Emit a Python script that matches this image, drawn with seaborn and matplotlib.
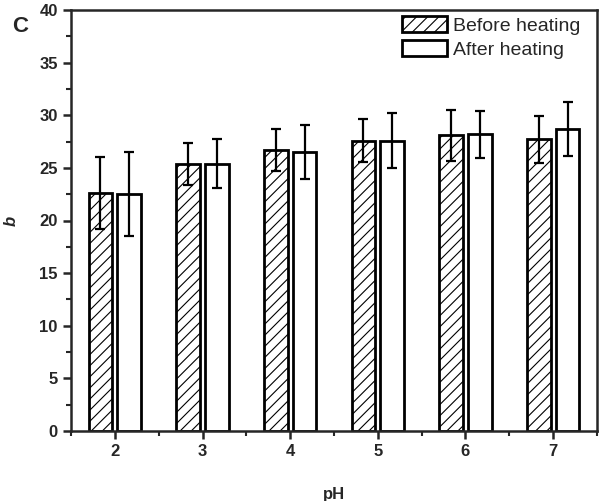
import matplotlib
matplotlib.use("Agg")
import matplotlib.pyplot as plt
from matplotlib.ticker import MultipleLocator
import seaborn as sns
import pandas as pd

# values
ph_levels = ["2", "3", "4", "5", "6", "7"]
before_heating = [22.6, 25.4, 26.7, 27.6, 28.1, 27.7]
before_err = [3.4, 2.0, 2.0, 2.0, 2.4, 2.25]
after_heating = [22.5, 25.4, 26.5, 27.6, 28.2, 28.7]
after_err = [4.0, 2.3, 2.6, 2.65, 2.25, 2.6]
series_names = ["Before heating", "After heating"]

sns.set_style("ticks")
plt.rcParams["font.family"] = ["Liberation Sans", "DejaVu Sans"]
plt.rcParams["hatch.linewidth"] = 0.8

df = pd.DataFrame({
    "pH": ph_levels * 2,
    "b": before_heating + after_heating,
    "err": before_err + after_err,
    "group": [series_names[0]] * len(ph_levels) + [series_names[1]] * len(ph_levels),
})

fig = plt.figure(figsize=(6, 5.01), dpi=100)
ax = fig.add_subplot(111)
fig.subplots_adjust(left=71 / 600, right=597 / 600, top=1 - 10 / 501, bottom=1 - 431 / 501)

sns.barplot(data=df, x="pH", y="b", hue="group", order=ph_levels,
            hue_order=series_names, palette=["white", "white"],
            width=0.66, gap=0.18, errorbar=None, edgecolor="black",
            linewidth=2, ax=ax)

n = len(ph_levels)
for i, patch in enumerate(ax.patches[:2 * n]):
    if i < n:
        patch.set_hatch("///")
    cx = patch.get_x() + patch.get_width() / 2
    ax.errorbar(cx, df["b"].iloc[i], yerr=df["err"].iloc[i], fmt="none",
                ecolor="black", elinewidth=1.6, capsize=3.3, capthick=1.6,
                zorder=5)

ax.set_xlim(-0.5, n - 0.5)
ax.set_ylim(0, 40)
ax.yaxis.set_major_locator(MultipleLocator(5))
ax.yaxis.set_minor_locator(MultipleLocator(2.5))
ax.xaxis.set_minor_locator(MultipleLocator(0.5))
ax.tick_params(which="major", direction="out", length=6, width=1.8,
               labelsize=12)
ax.tick_params(which="minor", direction="out", length=3.5, width=1.5)
for lbl in ax.get_xticklabels() + ax.get_yticklabels():
    lbl.set_fontweight("bold")
for s in ax.spines.values():
    s.set_visible(True)
    s.set_linewidth(1.8)

ax.set_xlabel("pH", fontsize=12, fontweight="bold", labelpad=20)
ax.set_ylabel("b", fontsize=12, fontweight="bold", style="italic")
ax.yaxis.set_label_coords(-0.1, 0.5)

# legend: hatched / plain boxes, no frame
handles = ax.get_legend().legend_handles
ax.legend(handles=handles, labels=series_names, loc="upper right",
          bbox_to_anchor=(0.968, 0.985), frameon=False, fontsize=14,
          handlelength=2.3, handleheight=0.9, labelspacing=0.25,
          handletextpad=0.3, borderaxespad=0, borderpad=0)
for h in ax.get_legend().legend_handles:
    h.set_linewidth(2)
    h.set_edgecolor("black")
ax.get_legend().legend_handles[0].set_hatch("///")

fig.text(0.02, 0.936, "C", fontsize=16, fontweight="bold")

fig.savefig("out.png", dpi=100)
